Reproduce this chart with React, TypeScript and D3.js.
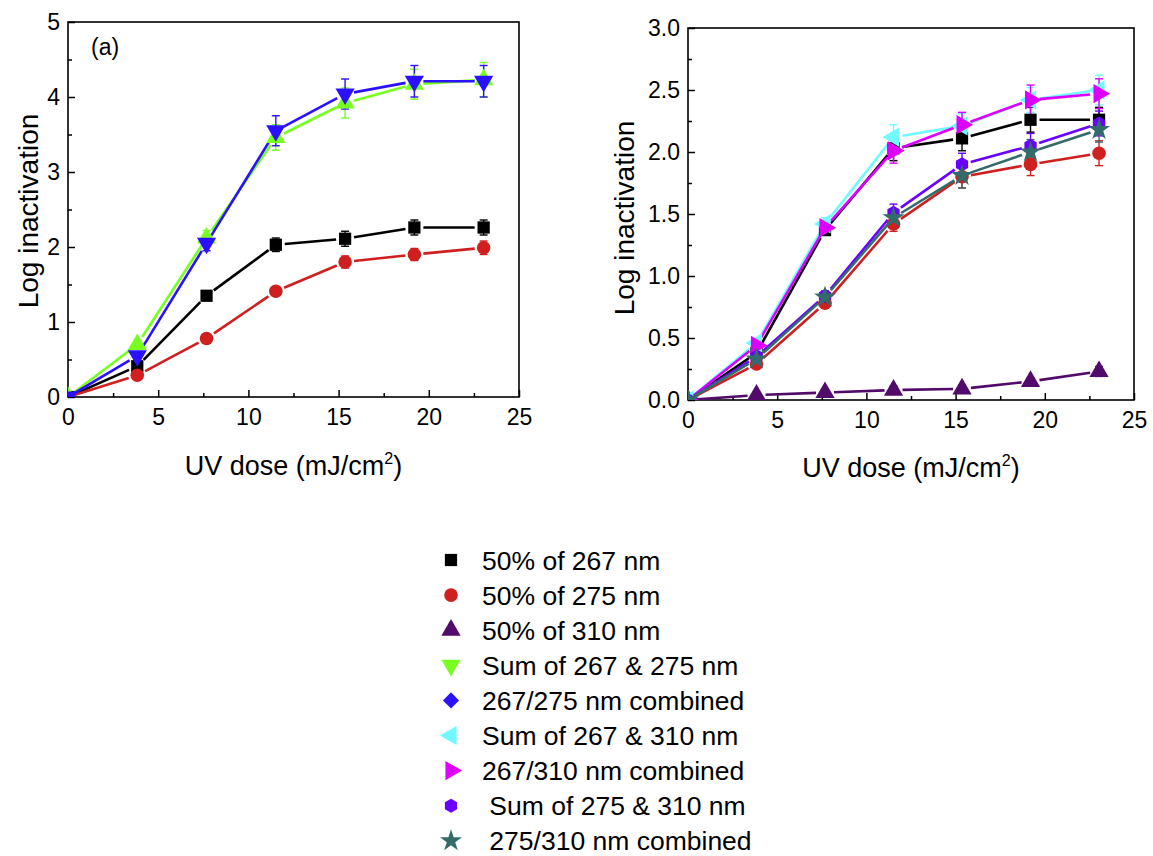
import React, { useEffect, useRef } from 'react';
import * as d3 from 'd3';

// UV dose (mJ/cm2) shared by all series
const doses = [0, 3.84, 7.68, 11.52, 15.36, 19.2, 23.04];

// panel (a)
const a267 = [0, 0.41, 1.35, 2.03, 2.11, 2.26, 2.26];
const a267Err = [0, 0.03, 0.04, 0.09, 0.1, 0.1, 0.1];
const a275 = [0, 0.29, 0.78, 1.41, 1.8, 1.9, 1.99];
const a275Err = [0, 0.02, 0.03, 0.05, 0.08, 0.08, 0.09];
const aSum = [0, 0.7, 2.12, 3.46, 3.92, 4.17, 4.23];
const aSumErr = [0, 0.05, 0.1, 0.17, 0.2, 0.2, 0.23];
const aComb = [0, 0.55, 2.05, 3.55, 4.04, 4.21, 4.21];
const aCombErr = [0, 0.04, 0.1, 0.2, 0.2, 0.21, 0.21];

// right panel
const b267 = [0, 0.38, 1.37, 2.03, 2.11, 2.26, 2.26];
const b267Err = [0, 0.03, 0.04, 0.1, 0.1, 0.1, 0.1];
const b275 = [0, 0.29, 0.78, 1.42, 1.8, 1.9, 1.99];
const b275Err = [0, 0.03, 0.04, 0.06, 0.09, 0.09, 0.1];
const b310 = [0, 0.04, 0.06, 0.08, 0.09, 0.15, 0.23];
const b310Err = [0, 0.01, 0.01, 0.03, 0.03, 0.03, 0.04];
const bSum267310 = [0, 0.46, 1.42, 2.12, 2.21, 2.42, 2.5];
const bSum267310Err = [0, 0.03, 0.05, 0.1, 0.1, 0.1, 0.12];
const bComb267310 = [0, 0.44, 1.39, 2.01, 2.22, 2.42, 2.47];
const bComb267310Err = [0, 0.03, 0.05, 0.1, 0.1, 0.12, 0.12];
const bSum275310 = [0, 0.35, 0.84, 1.51, 1.9, 2.05, 2.23];
const bSum275310Err = [0, 0.03, 0.04, 0.07, 0.09, 0.1, 0.1];
const bComb275310 = [0, 0.33, 0.83, 1.47, 1.81, 2.0, 2.18];
const bComb275310Err = [0, 0.03, 0.04, 0.07, 0.1, 0.1, 0.1];

const legendLabels = [
    '50% of 267 nm',
    '50% of 275 nm',
    '50% of 310 nm',
    'Sum of 267 & 275 nm',
    '267/275 nm combined',
    'Sum of 267 & 310 nm',
    '267/310 nm combined',
    ' Sum of 275 & 310 nm',
    ' 275/310 nm combined',
];

const colors = {
    black: '#000000',
    red: '#cf1f1f',
    purple: '#520a6b',
    green: '#77ff22',
    blue: '#2a10ff',
    cyan: '#70faff',
    magenta: '#dd00ff',
    violet: '#6a00ff',
    teal: '#336b6b',
};

const FONT = '"Liberation Sans", Arial, sans-serif';

// hexagon with points top and bottom
const symbolHexagon = {
    draw(context, size) {
        const r = Math.sqrt(size / (3 * Math.sqrt(3) / 2));
        for (let i = 0; i < 6; i++) {
            const a = -Math.PI / 2 + i * Math.PI / 3;
            const x = r * Math.cos(a), y = r * Math.sin(a);
            if (i === 0) context.moveTo(x, y); else context.lineTo(x, y);
        }
        context.closePath();
    }
};

const shapes = {
    square: { type: d3.symbolSquare, size: 150, rot: 0 },
    circle: { type: d3.symbolCircle, size: 145, rot: 0 },
    up: { type: d3.symbolTriangle, size: 160, rot: 0 },
    down: { type: d3.symbolTriangle, size: 160, rot: 180 },
    left: { type: d3.symbolTriangle, size: 160, rot: -90 },
    right: { type: d3.symbolTriangle, size: 160, rot: 90 },
    diamond: { type: d3.symbolSquare, size: 130, rot: 45 },
    hex: { type: symbolHexagon, size: 130, rot: 0 },
    star: { type: d3.symbolStar, size: 150, rot: 0 },
};

const legendShapes = ['square', 'circle', 'up', 'down', 'diamond', 'left', 'right', 'hex', 'star'];
const legendColors = [colors.black, colors.red, colors.purple, colors.green, colors.blue, colors.cyan, colors.magenta, colors.violet, colors.teal];

function drawPanel(svg, cfg) {
    const { id, x0, x1, y0, y1, yMax, yMajor, yFmt, series, titleX, titleY, label } = cfg;
    const x = d3.scaleLinear().domain([0, 25]).range([x0, x1]);
    const y = d3.scaleLinear().domain([0, yMax]).range([y0, y1]);

    svg.append('clipPath').attr('id', id)
        .append('rect').attr('x', x0).attr('y', y1).attr('width', x1 - x0).attr('height', y0 - y1);

    // axes (ticks point inward)
    const xMajor = d3.range(0, 25.01, 5);
    const xMinor = d3.range(2.5, 25, 5);
    const yTicks = d3.range(0, yMax + 1e-6, yMajor);
    const yMinor = d3.range(yMajor / 2, yMax, yMajor);

    const gx = svg.append('g').attr('transform', `translate(0,${y0})`)
        .call(d3.axisBottom(x).tickValues(xMajor).tickSizeInner(-7).tickSizeOuter(0).tickPadding(12).tickFormat(d3.format('d')));
    svg.append('g').attr('transform', `translate(0,${y0})`)
        .call(d3.axisBottom(x).tickValues(xMinor).tickSizeInner(-4).tickSizeOuter(0).tickFormat(() => ''));
    const gy = svg.append('g').attr('transform', `translate(${x0},0)`)
        .call(d3.axisLeft(y).tickValues(yTicks).tickSizeInner(-7).tickSizeOuter(0).tickPadding(8).tickFormat(yFmt));
    svg.append('g').attr('transform', `translate(${x0},0)`)
        .call(d3.axisLeft(y).tickValues(yMinor).tickSizeInner(-4).tickSizeOuter(0).tickFormat(() => ''));

    svg.selectAll('.domain').remove();
    svg.selectAll('.tick line').attr('stroke', '#000').attr('stroke-width', 1.5);
    [gx, gy].forEach(g => g.selectAll('text').attr('font-family', FONT).attr('font-size', 23).attr('fill', '#000'));

    svg.append('rect')
        .attr('x', x0).attr('y', y1).attr('width', x1 - x0).attr('height', y0 - y1)
        .attr('fill', 'none').attr('stroke', '#000').attr('stroke-width', 1.6);

    const plot = svg.append('g').attr('clip-path', `url(#${id})`);

    // lines with a gap around each symbol
    series.forEach(s => {
        for (let i = 0; i < doses.length - 1; i++) {
            const ax = x(doses[i]), ay = y(s.values[i]);
            const bx = x(doses[i + 1]), by = y(s.values[i + 1]);
            const len = Math.hypot(bx - ax, by - ay);
            const t0 = (i === 0 ? 2 : 9) / len;
            const t1 = 9 / len;
            plot.append('line')
                .attr('x1', ax + (bx - ax) * t0).attr('y1', ay + (by - ay) * t0)
                .attr('x2', bx - (bx - ax) * t1).attr('y2', by - (by - ay) * t1)
                .attr('stroke', s.color).attr('stroke-width', 2.6);
        }
    });

    // error bars
    series.forEach(s => {
        s.values.forEach((v, i) => {
            const e = s.err[i];
            if (!e) return;
            const cx = x(doses[i]);
            const g = plot.append('g').attr('stroke', s.color).attr('stroke-width', 1.4);
            g.append('line').attr('x1', cx).attr('x2', cx).attr('y1', y(v - e)).attr('y2', y(v + e));
            [v - e, v + e].forEach(yy => {
                g.append('line').attr('x1', cx - 4).attr('x2', cx + 4).attr('y1', y(yy)).attr('y2', y(yy));
            });
        });
    });

    // symbols
    series.forEach(s => {
        const sh = shapes[s.shape];
        plot.selectAll(null).data(s.values).enter().append('path')
            .attr('d', d3.symbol().type(sh.type).size(sh.size))
            .attr('transform', (d, i) => `translate(${x(doses[i])},${y(d)}) rotate(${sh.rot})`)
            .attr('fill', s.color);
    });

    // axis titles
    const xt = svg.append('text')
        .attr('x', (x0 + x1) / 2 + titleX.dx).attr('y', titleX.y)
        .attr('text-anchor', 'middle').attr('font-family', FONT).attr('font-size', 27);
    xt.append('tspan').text('UV dose (mJ/cm');
    xt.append('tspan').attr('font-size', 16).attr('dy', -11).text('2');
    xt.append('tspan').attr('dy', 11).text(')');

    svg.append('text')
        .attr('transform', `translate(${titleY.x},${titleY.cy}) rotate(-90)`)
        .attr('text-anchor', 'middle').attr('font-family', FONT).attr('font-size', 28)
        .text('Log inactivation');

    if (label) {
        svg.append('text').attr('x', x0 + 23).attr('y', y1 + 33)
            .attr('font-family', FONT).attr('font-size', 23).text(label);
    }
}

function App() {
    const ref = useRef(null);

    useEffect(() => {
        const svg = d3.select(ref.current);
        svg.selectAll('*').remove();

        drawPanel(svg, {
            id: 'clipA', x0: 68, x1: 519, y0: 397, y1: 22, yMax: 5, yMajor: 1,
            yFmt: d3.format('d'), label: '(a)',
            titleX: { y: 475, dx: 0 }, titleY: { x: 38, cy: 211 },
            series: [
                { values: a267, err: a267Err, color: colors.black, shape: 'square' },
                { values: a275, err: a275Err, color: colors.red, shape: 'circle' },
                { values: aSum, err: aSumErr, color: colors.green, shape: 'up' },
                { values: aComb, err: aCombErr, color: colors.blue, shape: 'down' },
            ],
        });

        drawPanel(svg, {
            id: 'clipB', x0: 688, x1: 1134, y0: 400, y1: 28, yMax: 3, yMajor: 0.5,
            yFmt: d3.format('.1f'), label: null,
            titleX: { y: 477, dx: 0 }, titleY: { x: 634, cy: 218 },
            series: [
                { values: b267, err: b267Err, color: colors.black, shape: 'square' },
                { values: b275, err: b275Err, color: colors.red, shape: 'circle' },
                { values: b310, err: b310Err, color: colors.purple, shape: 'up' },
                { values: bSum267310, err: bSum267310Err, color: colors.cyan, shape: 'left' },
                { values: bComb267310, err: bComb267310Err, color: colors.magenta, shape: 'right' },
                { values: bSum275310, err: bSum275310Err, color: colors.violet, shape: 'hex' },
                { values: bComb275310, err: bComb275310Err, color: colors.teal, shape: 'star' },
            ],
        });

        // legend
        const legend = svg.append('g');
        legendLabels.forEach((lab, i) => {
            const cy = 560 + i * 35.1;
            const sh = shapes[legendShapes[i]];
            legend.append('path')
                .attr('d', d3.symbol().type(sh.type).size(sh.size))
                .attr('transform', `translate(451,${cy}) rotate(${sh.rot})`)
                .attr('fill', legendColors[i]);
            legend.append('text')
                .attr('x', 482).attr('y', cy).attr('dy', '0.36em')
                .attr('font-family', FONT).attr('font-size', 26.5)
                .style('white-space', 'pre')
                .text(lab);
        });
    }, []);

    return (
        <div style={{ position: 'absolute', left: 0, top: 0 }}>
            <svg ref={ref} width={1153} height={856} style={{ display: 'block', background: '#fff' }} />
        </div>
    );
}

export default App;
